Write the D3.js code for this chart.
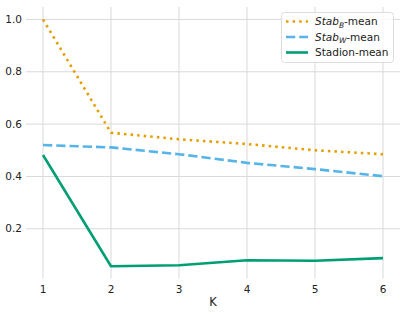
<!DOCTYPE html>
<html><head><meta charset="utf-8">
<script src="https://cdn.jsdelivr.net/npm/d3@7"></script>
<style>body{margin:0;background:#fff}svg{display:block;font-family:"DejaVu Sans",sans-serif}</style>
</head><body>
<svg id="c" width="407" height="314"></svg>
<script>
const ks = [1, 2, 3, 4, 5, 6];
const stabB = [1.0, 0.567, 0.542, 0.524, 0.500, 0.485];
const stabW = [0.520, 0.511, 0.485, 0.452, 0.428, 0.401];
const stadion = [0.482, 0.057, 0.061, 0.080, 0.078, 0.088];
const yTicks = [0.2, 0.4, 0.6, 0.8, 1.0];
const seriesNames = ["Stab_B", "Stab_W", "Stadion"];

const svg = d3.select("#c");
const L = 26, R = 400, T = 7, B = 280.5;
const x = d3.scaleLinear().domain([0.75, 6.25]).range([L, R]);
const y = d3.scaleLinear().domain([0.0025, 1.0475]).range([B, T]);

const grid = svg.append("g");
grid.selectAll("line.v").data(ks).join("line")
  .attr("x1", d => x(d)).attr("x2", d => x(d)).attr("y1", T).attr("y2", B - 2)
  .attr("stroke", "#d9d9d9").attr("stroke-width", 1);
grid.selectAll("line.h").data(yTicks).join("line")
  .attr("x1", L).attr("x2", R).attr("y1", d => y(d)).attr("y2", d => y(d))
  .attr("stroke", "#d9d9d9").attr("stroke-width", 1);

svg.append("g").selectAll("text").data(ks).join("text")
  .attr("x", d => x(d)).attr("y", 293).attr("text-anchor", "middle")
  .attr("font-size", 10.5).attr("fill", "#222").text(d => d);
svg.append("g").selectAll("text").data(yTicks).join("text")
  .attr("x", 22).attr("y", d => y(d)).attr("dy", "0.35em").attr("text-anchor", "end")
  .attr("font-size", 10.5).attr("fill", "#222").text(d => d.toFixed(1));
svg.append("text").attr("x", x(3.5)).attr("y", 306).attr("text-anchor", "middle")
  .attr("font-size", 11.5).attr("fill", "#222").text("K");

const line = d3.line().x((d, i) => x(ks[i])).y(d => y(d));
const styles = [
  {data: stabB, color: "#E69F00", dash: "2.5,4.1"},
  {data: stabW, color: "#56B4E9", dash: "9.25,4"},
  {data: stadion, color: "#009E73", dash: null}
];
styles.forEach(s => {
  svg.append("path").attr("d", line(s.data)).attr("fill", "none")
    .attr("stroke", s.color).attr("stroke-width", 2.6)
    .attr("stroke-dasharray", s.dash).attr("stroke-linecap", "butt")
    .attr("stroke-linejoin", "round");
});

const lg = svg.append("g");
lg.append("rect").attr("x", 281.5).attr("y", 12.5).attr("width", 112).attr("height", 50)
  .attr("rx", 3).attr("fill", "#fff").attr("fill-opacity", 0.85)
  .attr("stroke", "#ddd").attr("stroke-width", 1);
const rows = [21.5, 37, 52.5];
styles.forEach((s, i) => {
  lg.append("line").attr("x1", 286).attr("x2", 308).attr("y1", rows[i]).attr("y2", rows[i])
    .attr("stroke", s.color).attr("stroke-width", 2.6).attr("stroke-dasharray", s.dash);
  const t = lg.append("text").attr("x", 315).attr("y", rows[i]).attr("dy", "0.35em")
    .attr("font-size", 10.5).attr("fill", "#222");
  if (i < 2) {
    const sub = seriesNames[i].split("_")[1];
    t.append("tspan").attr("font-style", "italic").text("Stab");
    t.append("tspan").attr("font-style", "italic").attr("font-size", 7.5).attr("dy", 2.5).text(sub);
    t.append("tspan").attr("dy", -2.5).text("-mean");
  } else {
    t.text(seriesNames[i] + "-mean");
  }
});
</script>
</body></html>
